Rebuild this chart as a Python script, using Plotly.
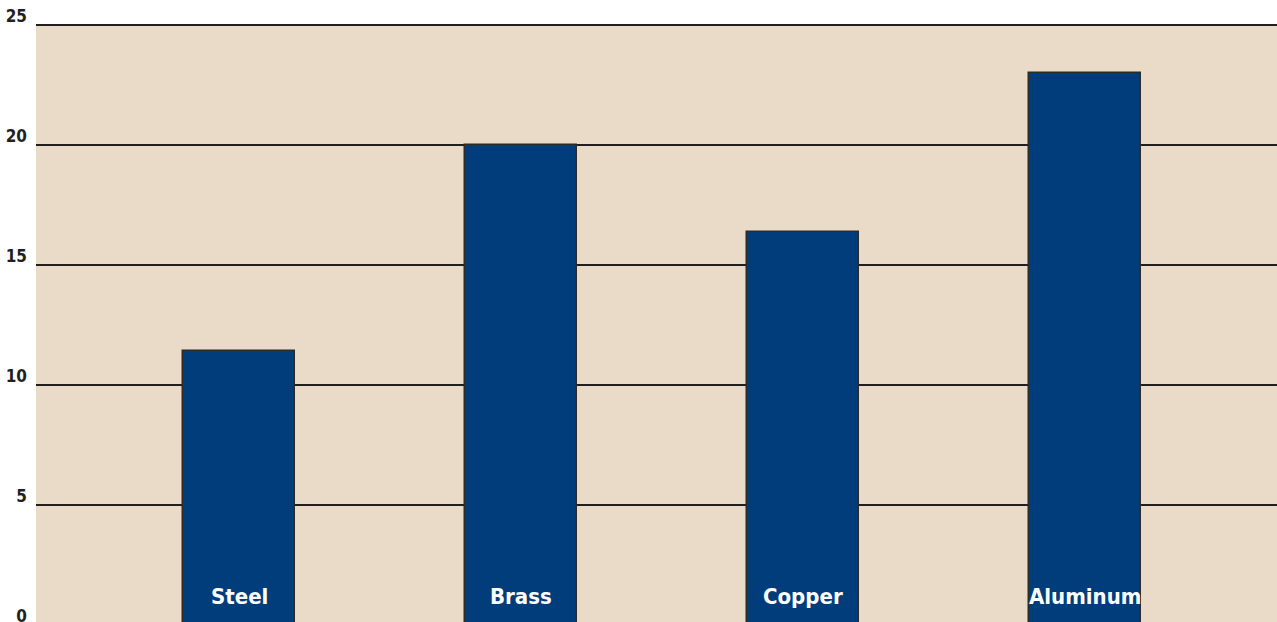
import plotly.graph_objects as go

categories = ["Steel", "Brass", "Copper", "Aluminum"]
values = [11.4, 20.0, 16.4, 23.0]
tick_vals = [0, 5, 10, 15, 20, 25]
tick_text = ["0", "5", "10", "15", "20", "25"]

BG = "#E9DBC8"
BAR = "#013D7B"
EDGE = "#2E2A28"
GRID = "#221F1F"
FONT = "DejaVu Sans Condensed, Roboto, sans-serif"

fig = go.Figure()
fig.add_trace(go.Bar(
    x=categories, y=values, width=0.397,
    marker=dict(color=BAR, line=dict(color=EDGE, width=1.5)),
    hoverinfo="skip",
))

for c in categories:
    fig.add_annotation(
        x=c, xref="x", y=0, yref="paper", yanchor="middle", yshift=29,
        text="<b>%s</b>" % c, showarrow=False,
        font=dict(family=FONT, size=22, color="white"),
    )

fig.update_layout(
    width=1277, height=625,
    margin=dict(l=36, r=0, t=24, b=0, autoexpand=False),
    paper_bgcolor="white", plot_bgcolor=BG,
    showlegend=False,
    bargap=0,
    xaxis=dict(range=[-0.7203, 3.679], showticklabels=False, showgrid=False,
               zeroline=False, showline=False, fixedrange=True, automargin=False),
    yaxis=dict(range=[0, 25.05], tickvals=tick_vals,
               ticktext=["<b>%s</b>" % t for t in tick_text],
               ticklabelposition="outside top",
               ticklabeloverflow="allow",
               ticklabelstandoff=8,
               ticklabelshift=3,
               tickfont=dict(family=FONT, size=17, color="#231F20"),
               showgrid=True, gridcolor=GRID, gridwidth=2,
               zeroline=False, showline=False, ticks="", fixedrange=True,
               automargin=False),
)

fig.write_html(
    "out.html",
    config={"displayModeBar": False},
    post_script=(
        "document.body.style.margin='0';"
        "document.body.style.overflow='hidden';"
        "document.documentElement.style.overflow='hidden';"
    ),
)
